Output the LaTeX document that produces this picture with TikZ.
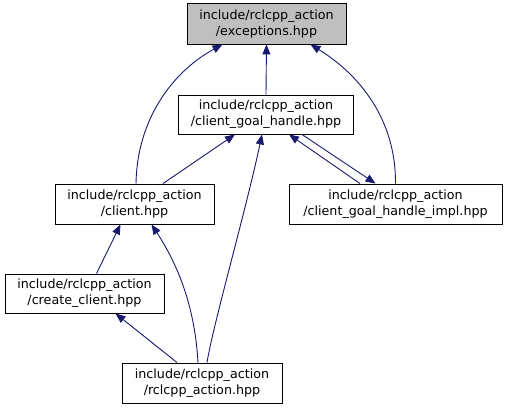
\documentclass[tikz,border=0pt]{standalone}
\usepackage{fontspec}
\setmainfont{DejaVu Sans}
\usetikzlibrary{arrows.meta}
\definecolor{edgeblue}{RGB}{25,25,112}
\definecolor{focusgray}{RGB}{191,191,191}
\begin{document}
\begin{tikzpicture}[x=1pt,y=-1pt,
  filebox/.style={draw=black,line width=0.9pt,fill=white,inner sep=0pt,align=center,
    font=\fontsize{12.7}{16}\selectfont},
  focus/.style={filebox,fill=focusgray},
  dep/.style={draw=edgeblue,line width=0.9pt,-{Triangle[length=10pt,width=8pt]}}]
\useasboundingbox (0,0) rectangle (507,409);
\node[focus,minimum width=159pt,minimum height=41pt] (exc) at (266.5,23.5) {include/rclcpp\_action\\/exceptions.hpp};
\node[filebox,minimum width=175pt,minimum height=39pt] (cgh) at (266,114.5) {include/rclcpp\_action\\/client\_goal\_handle.hpp};
\node[filebox,minimum width=213pt,minimum height=40pt] (impl) at (395.5,204) {include/rclcpp\_action\\/client\_goal\_handle\_impl.hpp};
\node[filebox,minimum width=159pt,minimum height=40pt] (client) at (134.5,204) {include/rclcpp\_action\\/client.hpp};
\node[filebox,minimum width=159pt,minimum height=39pt] (create) at (84.5,293.5) {include/rclcpp\_action\\/create\_client.hpp};
\node[filebox,minimum width=160pt,minimum height=40pt] (rcl) at (202,383) {include/rclcpp\_action\\/rclcpp\_action.hpp};

% client -> exceptions
\draw[dep] ([xshift=1.5pt]client.north) .. controls (137,120) and (172,72) .. ([xshift=-44pt]exc.south);
% cgh -> exceptions
\draw[dep] (cgh.north) -- (exc.south);
% impl -> exceptions
\draw[dep] ([xshift=0pt]impl.north) .. controls (396,120) and (360,75) .. ([xshift=44pt]exc.south);
% client -> cgh
\draw[dep] ([xshift=28.5pt]client.north) -- ([xshift=-31pt]cgh.south);
% impl -> cgh
\draw[dep] ([xshift=-35.5pt]impl.north) -- ([xshift=23pt]cgh.south);
% cgh -> impl
\draw[dep] ([xshift=36pt]cgh.south) -- ([xshift=-20pt]impl.north);
% rclcpp_action -> cgh
\draw[dep] ([xshift=5pt]rcl.north) .. controls (213,325) and (246,210) .. ([xshift=-4pt]cgh.south);
% create -> client
\draw[dep] ([xshift=12pt]create.north) -- ([xshift=-14pt]client.south);
% rclcpp_action -> client
\draw[dep] ([xshift=-4pt]rcl.north) .. controls (195,310) and (180,268) .. ([xshift=17pt]client.south);
% rclcpp_action -> create
\draw[dep] ([xshift=-25pt]rcl.north) -- ([xshift=31pt]create.south);
\end{tikzpicture}
\end{document}
